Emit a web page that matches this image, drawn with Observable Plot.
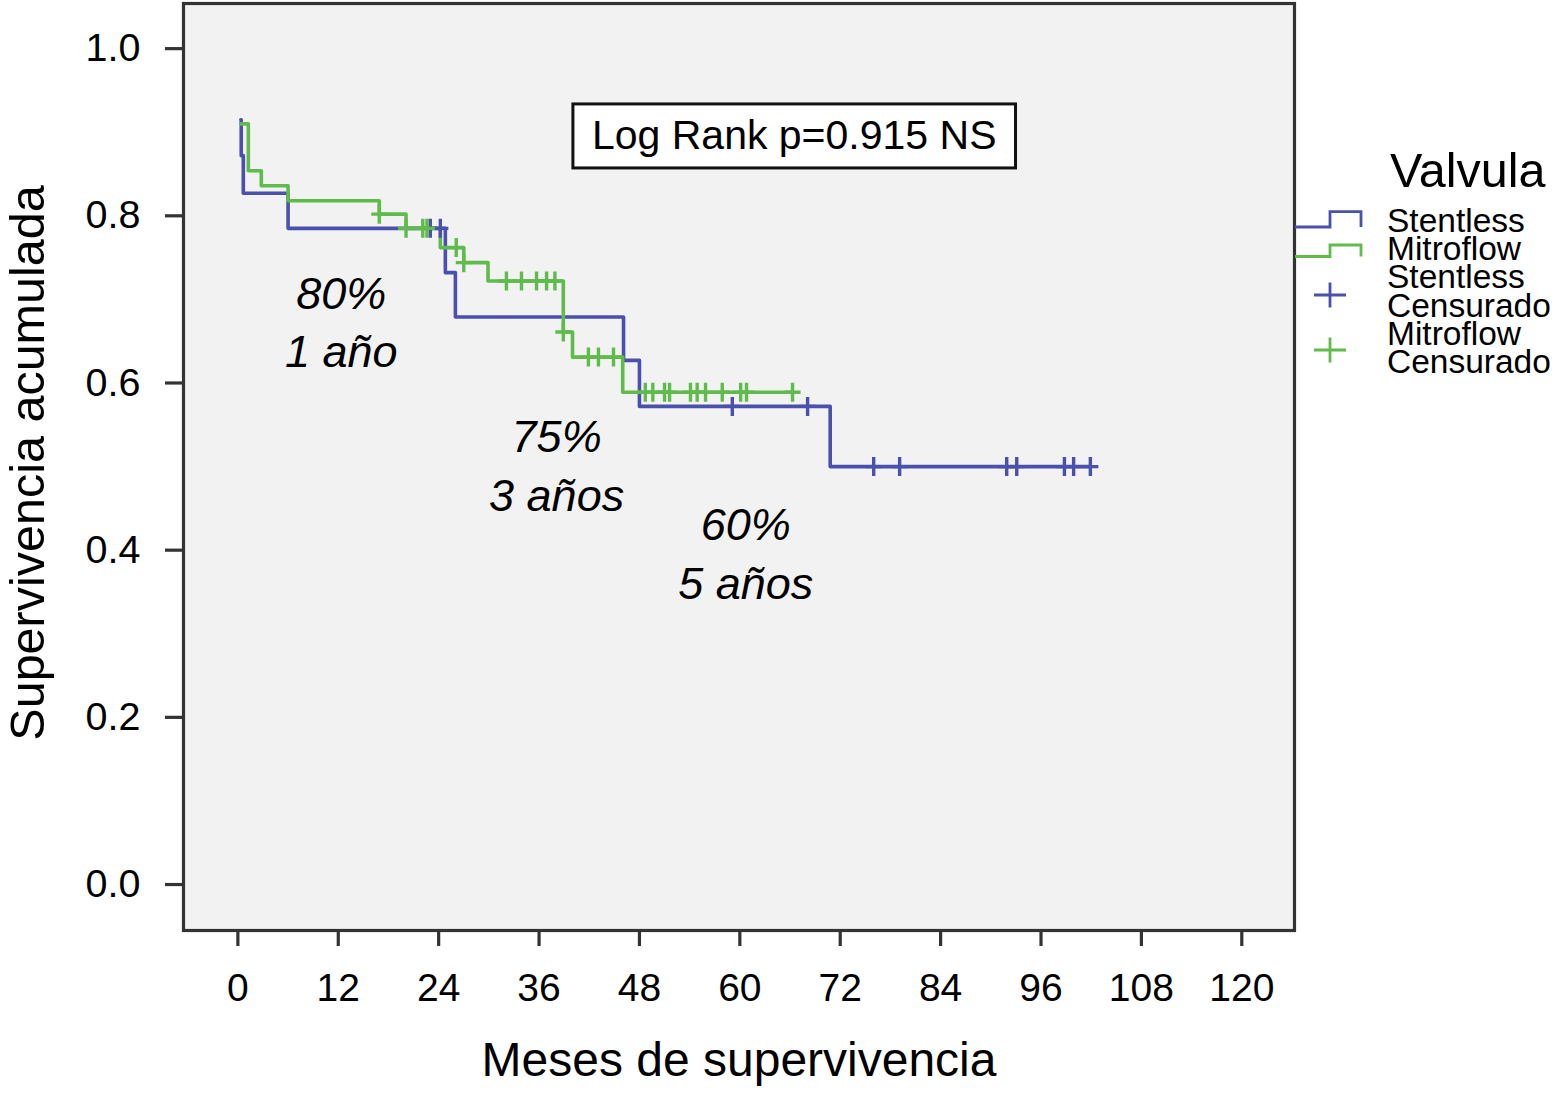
<!DOCTYPE html>
<html><head><meta charset="utf-8">
<script src="https://cdn.jsdelivr.net/npm/d3@7"></script>
<script src="https://cdn.jsdelivr.net/npm/@observablehq/plot@0.6"></script>
<style>
html,body{margin:0;padding:0;background:#fff;}
#chart{position:relative;width:1556px;height:1099px;overflow:hidden;}
#chart svg{display:block;}
</style></head>
<body><div id="chart"></div>
<script>
const FONT = '"Liberation Sans", Arial, Helvetica, sans-serif';
const BLUE = "#4a50ad";
const GREEN = "#5fbb4b";

// Kaplan-Meier step points (month, cumulative survival)
const stentlessTime = [0.35, 0.4, 0.65, 6.0, 24.8, 26.0, 46.1, 48.0, 70.8, 101.9];
const stentlessSurv = [0.915, 0.872, 0.827, 0.785, 0.732, 0.679, 0.627, 0.572, 0.500, 0.500];
const mitroflowTime = [0.35, 1.25, 2.8, 6.0, 16.9, 20.1, 24.2, 27.0, 29.9, 38.9, 40.0, 46.0, 66.3];
const mitroflowSurv = [0.910, 0.854, 0.836, 0.818, 0.802, 0.785, 0.762, 0.744, 0.722, 0.661, 0.631, 0.589, 0.589];

// Censored observations (months)
const stentlessCensored = [23.0, 24.2, 59.1, 68.1, 76.0, 79.1, 91.9, 93.1, 98.8, 99.9, 101.9];
const mitroflowCensored = [16.9, 20.1, 22.1, 22.6, 26.1, 27.0, 32.1, 33.9, 35.7, 36.9, 37.9, 38.9,
  41.9, 43.1, 44.9, 48.7, 49.6, 51.0, 51.6, 54.1, 54.9, 55.9, 57.9, 60.1, 60.8, 66.3];

// Axis ticks and labels
const xTicks = [0, 12, 24, 36, 48, 60, 72, 84, 96, 108, 120];
const yTicks = [0.0, 0.2, 0.4, 0.6, 0.8, 1.0];
const xLabel = "Meses de supervivencia";
const yLabel = "Supervivencia acumulada";

// Annotations
const annotText = ["80%\n1 año", "75%\n3 años", "60%\n5 años"];
const annotMonth = [12.35, 38.1, 60.7];
const annotSurv = [0.619, 0.447, 0.342];
const logRankText = ["Log Rank p=0.915 NS"];
const logRankMonth = [66.5];
const logRankSurv = [0.880];

// Legend
const legendTitle = "Valvula";
const legendLabels = ["Stentless", "Mitroflow", "Stentless\nCensurado", "Mitroflow\nCensurado"];

const toRows = (T, S) => T.map((t, i) => ({t, s: S[i]}));
const survAt = (T, S, t) => { let v = S[0]; for (let i = 0; i < T.length; i++) if (T[i] <= t + 1e-9) v = S[i]; return v; };
const stentless = toRows(stentlessTime, stentlessSurv);
const mitroflow = toRows(mitroflowTime, mitroflowSurv);
const stentlessCens = stentlessCensored.map(t => ({t, s: survAt(stentlessTime, stentlessSurv, t)}));
const mitroflowCens = mitroflowCensored.map(t => ({t, s: survAt(mitroflowTime, mitroflowSurv, t)}));
const annotations = annotText.map((label, i) => ({label, x: annotMonth[i], y: annotSurv[i]}));
const logRank = logRankText.map((label, i) => ({label, x: logRankMonth[i], y: logRankSurv[i]}));

const plusSymbol = {
  draw(ctx, size) {
    ctx.moveTo(-8, 0); ctx.lineTo(8, 0);
    ctx.moveTo(0, -9.5); ctx.lineTo(0, 9.5);
  }
};

const plot = Plot.plot({
  width: 1556, height: 1099,
  marginLeft: 183, marginRight: 262, marginTop: 3, marginBottom: 169,
  style: {fontFamily: FONT, fontSize: "38px", background: "#fff", color: "#000"},
  x: {domain: [-6.5, 126.3]},
  y: {domain: [-0.055, 1.054]},
  marks: [
    Plot.frame({fill: "#f2f2f2", stroke: "#333", strokeWidth: 3.2}),
    Plot.axisX({ticks: xTicks, tickSize: 16, tickPadding: 27, tickFormat: d => String(d),
      fontSize: 39, stroke: "#333", strokeWidth: 3.2, fill: "#000", label: null}),
    Plot.axisY({ticks: yTicks, tickSize: 18, tickPadding: 25, tickFormat: d => d.toFixed(1),
      fontSize: 39.5, stroke: "#333", strokeWidth: 3.2, fill: "#000", label: null}),
    Plot.line(stentless, {x: "t", y: "s", curve: "step-after", stroke: BLUE, strokeWidth: 3.6}),
    Plot.line(mitroflow, {x: "t", y: "s", curve: "step-after", stroke: GREEN, strokeWidth: 3.6}),
    Plot.dot(stentlessCens, {x: "t", y: "s", symbol: plusSymbol, r: 5, stroke: BLUE, fill: "none", strokeWidth: 3.4}),
    Plot.dot(mitroflowCens, {x: "t", y: "s", symbol: plusSymbol, r: 5, stroke: GREEN, fill: "none", strokeWidth: 3.4}),
    Plot.text(annotations, {x: "x", y: "y", text: "label", fontSize: 45, fontStyle: "italic",
      lineAnchor: "bottom", lineHeight: 1.3, fill: "#000"}),
    Plot.text(logRank, {x: "x", y: "y", text: "label", fontSize: 41, lineAnchor: "bottom", fill: "#000"}),
    Plot.text([xLabel], {frameAnchor: "bottom", dy: 145, text: d => d, fontSize: 48, lineAnchor: "bottom",
      textAnchor: "middle", fill: "#000"}),
    Plot.text([yLabel], {frameAnchor: "left", rotate: -90, dx: -140, dy: -4, text: d => d, fontSize: 48.5,
      lineAnchor: "bottom", textAnchor: "middle", fill: "#000"})
  ]
});
document.getElementById("chart").appendChild(plot);

// Box around the Log Rank label, sized from the rendered text
const svg = d3.select(plot);
const svgRect = plot.getBoundingClientRect();
svg.selectAll("text").filter(function () { return this.textContent === logRankText[0]; }).each(function () {
  const b = this.getBoundingClientRect();
  const g = this.parentNode;
  svg.insert("rect", () => g)
    .attr("x", b.left - svgRect.left - 19)
    .attr("y", b.top - svgRect.top - 8)
    .attr("width", b.width + 38)
    .attr("height", b.height + 18)
    .attr("fill", "#fff")
    .attr("stroke", "#111")
    .attr("stroke-width", 3);
});

// Legend (outside the plot frame, on the right)
const lg = svg.append("g").attr("font-family", FONT).attr("fill", "#000").attr("text-anchor", "start");
lg.append("text").attr("x", 1390).attr("y", 187).attr("font-size", 48.5).text(legendTitle);
const lines = legendLabels.flatMap(s => s.split("\n"));
lines.forEach((s, i) => {
  lg.append("text").attr("x", 1387).attr("y", 231.7 + i * 28.3).attr("font-size", 33.5).text(s);
});
const stepSym = [{color: BLUE, low: 227, high: 211.7}, {color: GREEN, low: 256.5, high: 245}];
stepSym.forEach(d => {
  lg.append("path").attr("d", `M1295,${d.low}H1330V${d.high}H1361V${d.low}`)
    .attr("fill", "none").attr("stroke", d.color).attr("stroke-width", 2.8);
});
const crossSym = [{color: BLUE, cy: 295}, {color: GREEN, cy: 350}];
crossSym.forEach(d => {
  lg.append("path").attr("d", `M1314,${d.cy}H1346M1330,${d.cy - 12.5}V${d.cy + 12.5}`)
    .attr("fill", "none").attr("stroke", d.color).attr("stroke-width", 2.8);
});
</script>
</body></html>
